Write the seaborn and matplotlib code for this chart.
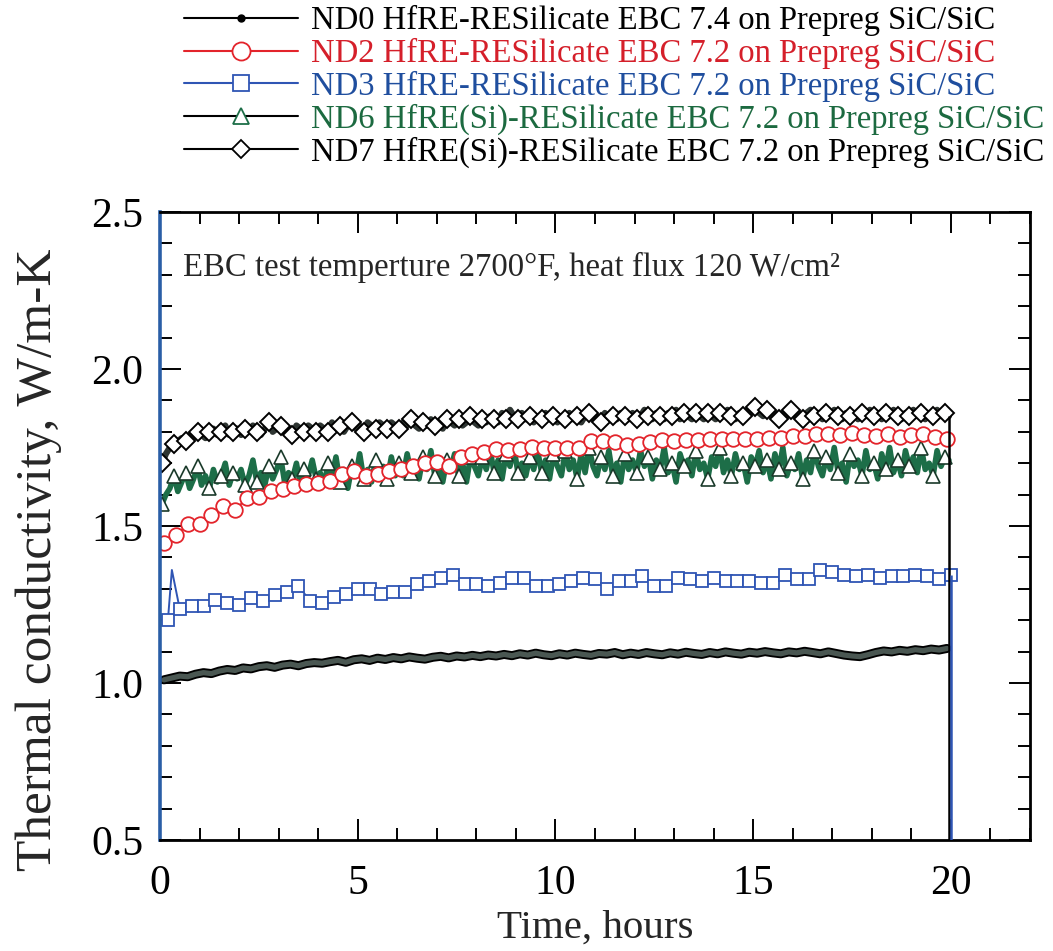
import numpy as np
import pandas as pd
import matplotlib
matplotlib.use("Agg")
import matplotlib.pyplot as plt
from matplotlib.lines import Line2D
from matplotlib.ticker import MultipleLocator
import seaborn as sns

sns.set_style("ticks")
plt.rcParams["font.family"] = ["Liberation Serif", "DejaVu Serif"]

# ---------------------------------------------------------------- data
series_labels = [
    "ND0 HfRE-RESilicate EBC 7.4 on Prepreg SiC/SiC",
    "ND2 HfRE-RESilicate EBC 7.2 on Prepreg SiC/SiC",
    "ND3 HfRE-RESilicate EBC 7.2 on Prepreg SiC/SiC",
    "ND6 HfRE(Si)-RESilicate EBC 7.2 on Prepreg SiC/SiC",
    "ND7 HfRE(Si)-RESilicate EBC 7.2 on Prepreg SiC/SiC",
]

# ND0: logged every 0.2 h starting at 0.1 h
nd0_k = [
    1.010, 1.016, 1.022, 1.020, 1.028, 1.033, 1.030, 1.038, 1.043, 1.040,
    1.048, 1.045, 1.052, 1.055, 1.050, 1.057, 1.060, 1.055, 1.062, 1.065,
    1.063, 1.068, 1.072, 1.066, 1.074, 1.077, 1.072, 1.079, 1.075, 1.081,
    1.077, 1.083, 1.079, 1.076, 1.082, 1.085, 1.080, 1.086, 1.083, 1.088,
    1.084, 1.089, 1.086, 1.091, 1.087, 1.093, 1.089, 1.095, 1.090, 1.087,
    1.093, 1.089, 1.095, 1.091, 1.088, 1.094, 1.092, 1.097, 1.090, 1.095,
    1.091, 1.097, 1.093, 1.090, 1.096, 1.092, 1.098, 1.094, 1.091, 1.097,
    1.093, 1.099, 1.095, 1.092, 1.098, 1.095, 1.100, 1.096, 1.093, 1.099,
    1.096, 1.101, 1.097, 1.093, 1.099, 1.094, 1.089, 1.086, 1.084, 1.090,
    1.097, 1.102, 1.099, 1.104, 1.101, 1.106, 1.103, 1.108, 1.105, 1.110,
]

# ND2: every 0.3 h starting at 0.1 h
nd2_k = [
    1.447, 1.470, 1.505, 1.506, 1.535, 1.564, 1.550, 1.590, 1.593, 1.612,
    1.618, 1.628, 1.634, 1.637, 1.644, 1.666, 1.676, 1.660, 1.665, 1.676,
    1.680, 1.690, 1.700, 1.705, 1.690, 1.720, 1.730, 1.735, 1.746, 1.742,
    1.744, 1.752, 1.750, 1.748, 1.748, 1.748, 1.772, 1.770, 1.766, 1.757,
    1.762, 1.768, 1.775, 1.772, 1.775, 1.775, 1.778, 1.778, 1.776, 1.778,
    1.776, 1.781, 1.781, 1.787, 1.787, 1.794, 1.792, 1.790, 1.795, 1.790,
    1.788, 1.792, 1.785, 1.790, 1.792, 1.785, 1.778,
]

# ND3: every 0.3 h starting at 0.2 h, plus a short spike right after start-up
nd3_k = [
    1.200, 1.235, 1.245, 1.245, 1.265, 1.255, 1.250, 1.270, 1.260, 1.280,
    1.290, 1.310, 1.260, 1.255, 1.275, 1.285, 1.300, 1.300, 1.285, 1.290,
    1.290, 1.315, 1.325, 1.335, 1.345, 1.315, 1.315, 1.310, 1.320, 1.335,
    1.335, 1.310, 1.310, 1.315, 1.325, 1.335, 1.330, 1.300, 1.325, 1.325,
    1.340, 1.310, 1.310, 1.335, 1.330, 1.325, 1.335, 1.325, 1.325, 1.325,
    1.320, 1.320, 1.345, 1.330, 1.330, 1.360, 1.355, 1.345, 1.340, 1.345,
    1.335, 1.340, 1.340, 1.345, 1.340, 1.330, 1.345,
]
nd3_spike_t = 0.3
nd3_spike_k = 1.36

# ND6: every 0.1 h starting at 0.05 h
nd6_k = [
    1.57, 1.60, 1.62, 1.66, 1.61, 1.64, 1.67, 1.62, 1.65, 1.69,
    1.63, 1.66, 1.62, 1.68, 1.64, 1.66, 1.70, 1.63, 1.67, 1.65,
    1.68, 1.63, 1.66, 1.71, 1.64, 1.67, 1.63, 1.69, 1.65, 1.68,
    1.72, 1.64, 1.67, 1.65, 1.70, 1.63, 1.68, 1.66, 1.71, 1.65,
    1.67, 1.63, 1.70, 1.66, 1.72, 1.64, 1.68, 1.62, 1.69, 1.66,
    1.73, 1.65, 1.68, 1.64, 1.71, 1.67, 1.69, 1.65, 1.72, 1.66,
    1.70, 1.66, 1.73, 1.67, 1.69, 1.65, 1.72, 1.68, 1.74, 1.66,
    1.70, 1.64, 1.71, 1.68, 1.73, 1.66, 1.70, 1.64, 1.72, 1.69,
    1.66, 1.72, 1.68, 1.74, 1.67, 1.71, 1.65, 1.73, 1.69, 1.75,
    1.67, 1.70, 1.66, 1.72, 1.68, 1.74, 1.67, 1.71, 1.65, 1.73,
    1.69, 1.66, 1.74, 1.68, 1.71, 1.65, 1.73, 1.67, 1.75, 1.69,
    1.66, 1.72, 1.68, 1.74, 1.66, 1.70, 1.64, 1.73, 1.68, 1.71,
    1.67, 1.74, 1.69, 1.72, 1.65, 1.71, 1.68, 1.75, 1.67, 1.70,
    1.64, 1.73, 1.69, 1.71, 1.66, 1.74, 1.68, 1.70, 1.65, 1.72,
    1.69, 1.75, 1.67, 1.71, 1.66, 1.73, 1.68, 1.70, 1.64, 1.72,
    1.69, 1.74, 1.67, 1.71, 1.65, 1.73, 1.68, 1.75, 1.66, 1.70,
    1.68, 1.73, 1.65, 1.71, 1.67, 1.74, 1.69, 1.66, 1.72, 1.68,
    1.75, 1.67, 1.70, 1.64, 1.73, 1.69, 1.71, 1.66, 1.74, 1.68,
    1.70, 1.65, 1.73, 1.68, 1.75, 1.67, 1.71, 1.66, 1.74, 1.69,
    1.72, 1.67, 1.75, 1.68, 1.70, 1.66, 1.74, 1.69, 1.72, 1.71,
]

# ND7: every 0.1 h starting at 0.05 h
nd7_k = [
    1.70, 1.73, 1.75, 1.76, 1.77, 1.78, 1.77, 1.79, 1.78, 1.80,
    1.79, 1.78, 1.80, 1.81, 1.79, 1.80, 1.82, 1.79, 1.80, 1.81,
    1.79, 1.81, 1.80, 1.82, 1.80, 1.79, 1.81, 1.83, 1.80, 1.81,
    1.82, 1.80, 1.81, 1.79, 1.82, 1.81, 1.80, 1.82, 1.81, 1.80,
    1.82, 1.81, 1.80, 1.83, 1.81, 1.82, 1.80, 1.82, 1.83, 1.81,
    1.82, 1.80, 1.83, 1.82, 1.81, 1.83, 1.82, 1.81, 1.83, 1.82,
    1.81, 1.83, 1.82, 1.84, 1.82, 1.81, 1.83, 1.82, 1.84, 1.82,
    1.83, 1.81, 1.84, 1.83, 1.82, 1.84, 1.82, 1.83, 1.85, 1.83,
    1.82, 1.84, 1.83, 1.85, 1.84, 1.83, 1.86, 1.84, 1.87, 1.85,
    1.84, 1.86, 1.84, 1.85, 1.83, 1.85, 1.84, 1.86, 1.84, 1.85,
    1.83, 1.85, 1.84, 1.86, 1.84, 1.85, 1.83, 1.85, 1.86, 1.84,
    1.85, 1.83, 1.86, 1.84, 1.85, 1.84, 1.86, 1.85, 1.84, 1.86,
    1.84, 1.85, 1.87, 1.85, 1.84, 1.86, 1.85, 1.84, 1.86, 1.85,
    1.87, 1.84, 1.86, 1.85, 1.84, 1.86, 1.85, 1.84, 1.86, 1.85,
    1.84, 1.86, 1.85, 1.87, 1.85, 1.84, 1.86, 1.85, 1.87, 1.86,
    1.88, 1.86, 1.85, 1.87, 1.85, 1.86, 1.84, 1.86, 1.85, 1.87,
    1.85, 1.86, 1.84, 1.86, 1.87, 1.85, 1.86, 1.84, 1.86, 1.85,
    1.87, 1.85, 1.84, 1.86, 1.85, 1.86, 1.84, 1.86, 1.85, 1.87,
    1.85, 1.86, 1.84, 1.86, 1.85, 1.87, 1.85, 1.84, 1.86, 1.85,
    1.87, 1.85, 1.86, 1.84, 1.86, 1.85, 1.87, 1.85, 1.86, 1.85,
]

x_ticks = [0, 5, 10, 15, 20]
y_ticks = [0.5, 1.0, 1.5, 2.0, 2.5]
x_label = "Time, hours"
y_label = "Thermal conductivity, W/m-K"
note = "EBC test temperture 2700°F, heat flux 120 W/cm²"

# sampling grids (hours)
t0 = 0.1 + 0.2 * np.arange(len(nd0_k))
t2 = 0.1 + 0.3 * np.arange(len(nd2_k))
t3 = np.insert(0.2 + 0.3 * np.arange(len(nd3_k)), 1, nd3_spike_t)
k3 = np.insert(np.array(nd3_k), 1, nd3_spike_k)
t6 = 0.05 + 0.1 * np.arange(len(nd6_k))
t7 = 0.05 + 0.1 * np.arange(len(nd7_k))

df0 = pd.DataFrame({"t": t0, "k": nd0_k})
df2 = pd.DataFrame({"t": t2, "k": nd2_k})
df3 = pd.DataFrame({"t": t3, "k": k3})
df6 = pd.DataFrame({"t": t6, "k": nd6_k})
df7 = pd.DataFrame({"t": t7, "k": nd7_k})

# ---------------------------------------------------------------- style
RED = "#e3242b"
BLUE = "#2f55b4"
GREEN = "#1d6e48"
DARK = "#2e3532"
TXT_RED = "#d51f2a"
TXT_BLUE = "#1f4e9e"
TXT_GREEN = "#1c6a40"

fig = plt.figure(figsize=(10.53, 9.51), dpi=100)
ax = fig.add_axes([160 / 1053, 111 / 951, 870 / 1053, 628 / 951])

common = dict(x="t", y="k", ax=ax, estimator=None, sort=False, legend=False)

# ND0: dense dark band
sns.lineplot(data=df0, color="black", lw=6.5, **common)
sns.lineplot(data=df0, color="#4a5752", lw=3.8, **common)

# ND3: blue squares
sns.lineplot(data=df3, color=BLUE, lw=1.4, marker="s", markersize=9,
             markerfacecolor="white", markeredgecolor=BLUE, markeredgewidth=1.3,
             markevery=[0] + list(range(2, len(df3))), **common)

# ND6: green band with triangles
sns.lineplot(data=df6, color=GREEN, lw=4.0, marker="^", markersize=10.5,
             markerfacecolor="white", markeredgecolor="#1a3a2a", markeredgewidth=1.2,
             markevery=3, **common)

# ND2: red circles
sns.lineplot(data=df2, color=RED, lw=1.4, marker="o", markersize=10.5,
             markerfacecolor="white", markeredgecolor=RED, markeredgewidth=1.3,
             **common)

# ND7: dark band with diamonds
sns.lineplot(data=df7, color=DARK, lw=4.5, marker="D", markersize=9,
             markerfacecolor="white", markeredgecolor="black", markeredgewidth=1.4,
             markevery=3, **common)

# end-of-test drops to zero
ax.vlines(t7[-1], 0, nd7_k[-1], color="black", lw=1.8, zorder=3)
ax.vlines(t3[-1], 0, k3[-1], color=BLUE, lw=1.8, zorder=3)

# ---------------------------------------------------------------- axes
ax.set_xlim(0, 22)
ax.set_ylim(0.5, 2.5)
ax.set_xticks(x_ticks)
ax.set_yticks(y_ticks)
ax.set_xticklabels([str(v) for v in x_ticks])
ax.set_yticklabels([f"{v:.1f}" for v in y_ticks])
ax.xaxis.set_minor_locator(MultipleLocator(1))
ax.yaxis.set_minor_locator(MultipleLocator(0.1))
ax.tick_params(which="both", direction="in", top=True, right=True,
               color="black", width=1.4, labelsize=30, labelcolor="black")
ax.tick_params(which="major", length=15)
ax.tick_params(which="minor", length=8.5)
ax.tick_params(axis="x", which="major", pad=18)
ax.tick_params(axis="y", which="major", pad=12)
for side, sp in ax.spines.items():
    sp.set_linewidth(2.0)
    sp.set_color("black")
ax.spines["left"].set_color("#2a5ea6")
ax.spines["left"].set_linewidth(2.6)

ax.set_xlabel(x_label, fontsize=29.5, va="center")
ax.xaxis.set_label_coords(0.5, -0.14)
ax.set_ylabel(y_label, fontsize=37)
ax.yaxis.set_label_coords(-0.113, 0.447)
ax.text(0.027, 0.911, note, transform=ax.transAxes, fontsize=23.6,
        va="center", ha="left")

# ---------------------------------------------------------------- legend
handles = [
    Line2D([], [], color="black", lw=1.5, marker="o", markersize=5,
           markerfacecolor="black", markeredgecolor="black"),
    Line2D([], [], color=RED, lw=1.5, marker="o", markersize=13,
           markerfacecolor="white", markeredgecolor=RED, markeredgewidth=1.3),
    Line2D([], [], color=BLUE, lw=1.5, marker="s", markersize=11,
           markerfacecolor="white", markeredgecolor=BLUE, markeredgewidth=1.3),
    Line2D([], [], color="black", lw=1.5, marker="^", markersize=11,
           markerfacecolor="white", markeredgecolor=GREEN, markeredgewidth=1.3),
    Line2D([], [], color="black", lw=1.5, marker="D", markersize=9,
           markerfacecolor="white", markeredgecolor="black", markeredgewidth=1.3),
]
leg = fig.legend(handles, series_labels, loc="upper right",
                 bbox_to_anchor=(1048 / 1053, 1 - 2 / 951), frameon=False,
                 fontsize=23.5, handlelength=3.5, handletextpad=0.4,
                 labelspacing=0.05, borderpad=0.1, borderaxespad=0)
for txt, col in zip(leg.get_texts(),
                    ["black", TXT_RED, TXT_BLUE, TXT_GREEN, "black"]):
    txt.set_color(col)

fig.savefig("out.png", dpi=100)
